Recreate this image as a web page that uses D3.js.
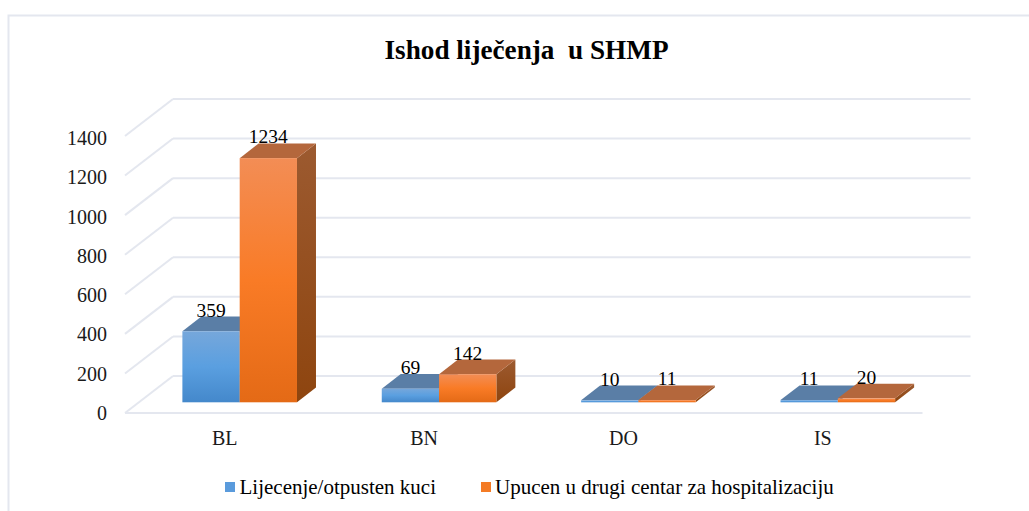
<!DOCTYPE html>
<html lang="en">
<head>
<meta charset="UTF-8">
<title>Ishod liječenja u SHMP</title>
<script src="https://d3js.org/d3.v7.min.js"></script>
<style>
    html, body { margin: 0; background: #fff; }
    text { font-family: "Liberation Serif", "Times New Roman", serif; fill: #1a1a1a; }
    .title { font-size: 27.2px; font-weight: bold; fill: #000; text-anchor: middle; white-space: pre; }
    .tick-label { font-size: 20px; }
    .cat-label { font-size: 20px; }
    .value-label { font-size: 19.5px; fill: #000; text-anchor: middle; }
    .legend-label { font-size: 21px; fill: #000; }
</style>
</head>
<body>
<div id="chart"></div>
<script>
const categories = ["BL", "BN", "DO", "IS"];
const seriesNames = ["Lijecenje/otpusten kuci", "Upucen u drugi centar za hospitalizaciju"];
const otpusten = [359, 69, 10, 11];
const upucen = [1234, 142, 11, 20];
const yTicks = [0, 200, 400, 600, 800, 1000, 1200, 1400];

const width = 1029, height = 511;
const gridColor = "#e4e7ef";

// the "3D" look: floor depth and where the bars sit inside it
const depth = { x: 48, y: -37 };
const barDepth = { x: 19, y: -14.7 };
const barOffset = { x: 15, y: -10.7 };

const svg = d3.select("#chart").append("svg")
    .attr("width", width)
    .attr("height", height)
    .style("display", "block");

const x0 = d3.scaleBand().domain(categories).range([125, 922.5]);
const x1 = d3.scaleBand().domain([0, 1]).range([0, 114.6]);
const y = d3.scaleLinear().domain([0, 1400]).range([413, 136]);
// tick labels drift a little from the gridlines in the original
const yLabel = d3.scaleLinear().domain([0, 1400]).range([420, 145]);

// outer frame, only top and left are visible in the crop
svg.append("path")
    .attr("d", "M8.5,511V15.5H1029")
    .attr("fill", "none")
    .attr("stroke", gridColor)
    .attr("stroke-width", 2);

svg.append("text").attr("class", "title")
    .attr("x", 526.5).attr("y", 59)
    .text("Ishod liječenja  u SHMP");

// gradients
const defs = svg.append("defs");
function addGradient(id, stops) {
    const g = defs.append("linearGradient").attr("id", id)
        .attr("x1", 0).attr("y1", 0).attr("x2", 0).attr("y2", 1);
    stops.forEach(s => g.append("stop").attr("offset", s[0]).attr("stop-color", s[1]));
}
addGradient("blueFront", [[0, "#76a7db"], [0.5, "#5a9fe0"], [1, "#4488cb"]]);
addGradient("orangeFront", [[0, "#f38d55"], [0.5, "#f97b26"], [1, "#e46a16"]]);
addGradient("orangeSide", [[0, "#9c5a30"], [1, "#8e450f"]]);
addGradient("blueSide", [[0, "#4f7ba8"], [1, "#35608f"]]);

const colors = [
    { front: "url(#blueFront)", top: "#5a7ea6", side: "url(#blueSide)" },
    { front: "url(#orangeFront)", top: "#b4673c", side: "url(#orangeSide)" }
];

// grid: back wall plus the slanted lines on the side wall
const grid = svg.append("g")
    .attr("stroke", gridColor)
    .attr("stroke-width", 2)
    .attr("fill", "none");

yTicks.forEach(t => {
    grid.append("line")
        .attr("x1", x0.range()[0]).attr("y1", y(t))
        .attr("x2", x0.range()[0] + depth.x).attr("y2", y(t) + depth.y);
    grid.append("line")
        .attr("x1", x0.range()[0] + depth.x).attr("y1", y(t) + depth.y)
        .attr("x2", x0.range()[1] + depth.x).attr("y2", y(t) + depth.y);
});
grid.append("line")
    .attr("x1", x0.range()[0]).attr("y1", y(0))
    .attr("x2", x0.range()[1]).attr("y2", y(0));

svg.append("g").selectAll("text")
    .data(yTicks)
    .join("text")
    .attr("class", "tick-label")
    .attr("x", 107)
    .attr("y", d => yLabel(d))
    .attr("text-anchor", "end")
    .text(d => d);

svg.append("g").selectAll("text")
    .data(categories)
    .join("text")
    .attr("class", "cat-label")
    .attr("x", d => x0(d) + x0.bandwidth() / 2)
    .attr("y", 445)
    .attr("text-anchor", "middle")
    .text(d => d);

function barLeft(cat, series) {
    return x0(cat) + (x0.bandwidth() - x1.range()[1]) / 2 + barOffset.x + x1(series);
}

// one bar = front, side and top face; drawn so orange overlaps blue
function drawBar(g, cat, series, value) {
    const left = barLeft(cat, series);
    const right = left + x1.bandwidth();
    const base = y(0) + barOffset.y;
    const top = y(value) + barOffset.y;
    const c = colors[series];
    const dx = barDepth.x, dy = barDepth.y;

    g.append("path").attr("fill", c.side)
        .attr("d", `M${right},${top}L${right + dx},${top + dy}L${right + dx},${base + dy}L${right},${base}Z`);
    g.append("path").attr("fill", c.top)
        .attr("d", `M${left},${top}L${left + dx},${top + dy}L${right + dx},${top + dy}L${right},${top}Z`);
    g.append("rect").attr("fill", c.front)
        .attr("x", left).attr("y", top)
        .attr("width", x1.bandwidth()).attr("height", Math.max(base - top, 1.5));
}

const bars = svg.append("g");
const seriesValues = [otpusten, upucen];
categories.forEach((cat, i) => {
    seriesValues.forEach((vals, s) => drawBar(bars, cat, s, vals[i]));
});

const labels = svg.append("g");
categories.forEach((cat, i) => {
    seriesValues.forEach((vals, s) => {
        labels.append("text").attr("class", "value-label")
            .attr("x", barLeft(cat, s) + x1.bandwidth() / 2)
            .attr("y", y(vals[i]) + barOffset.y + barDepth.y)
            .text(vals[i]);
    });
});

// legend
const legendItems = [
    { x: 225, textX: 239.5, color: "#5a9bdc" },
    { x: 481, textX: 495, color: "#f47b25" }
];
legendItems.forEach((item, i) => {
    svg.append("rect")
        .attr("x", item.x).attr("y", 482)
        .attr("width", 10).attr("height", 10)
        .attr("fill", item.color);
    svg.append("text").attr("class", "legend-label")
        .attr("x", item.textX).attr("y", 494)
        .text(seriesNames[i]);
});
</script>
</body>
</html>
